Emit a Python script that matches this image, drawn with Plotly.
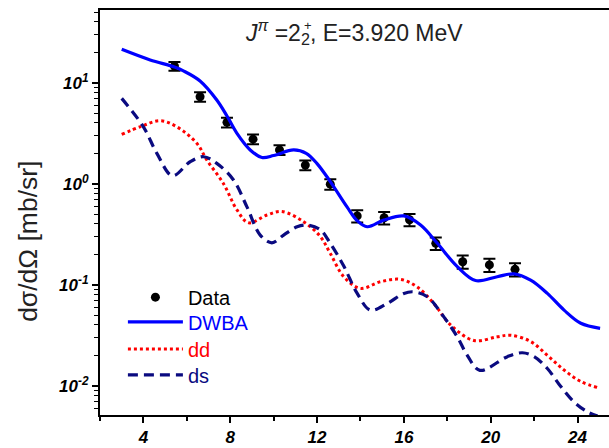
import plotly.graph_objects as go

# ---- data ----
data_x = [5.43, 6.61, 7.85, 9.05, 10.27, 11.46, 12.61, 13.85, 15.09, 16.26, 17.47, 18.71, 19.94, 21.12]
data_y = [14.6, 7.26, 4.05, 2.76, 2.16, 1.53, 0.99, 0.48, 0.46, 0.44, 0.257, 0.169, 0.157, 0.142]
data_rel_err = [0.10, 0.11, 0.11, 0.11, 0.11, 0.11, 0.12, 0.14, 0.14, 0.14, 0.14, 0.15, 0.15, 0.15]

dwba_x = [3.0, 4.31, 5.43, 5.84, 6.61, 7.38, 7.85, 8.31, 8.92, 9.46, 10.0, 10.92, 11.5, 11.99, 12.61,
          13.38, 13.85, 14.31, 15.07, 16.0, 16.77, 17.54, 18.46, 19.3, 20.3, 21.07, 21.84, 22.61,
          23.38, 24.15, 25.04]
dwba_y = [21.4, 16.8, 14.3, 13.1, 10.4, 6.74, 4.68, 3.15, 2.16, 1.82, 1.9, 2.16, 2.0, 1.59, 1.05,
          0.59, 0.43, 0.375, 0.436, 0.48, 0.39, 0.257, 0.151, 0.11, 0.12, 0.128, 0.111, 0.082,
          0.056, 0.0415, 0.037]

dd_x = [3.0, 3.9, 4.77, 5.54, 6.46, 6.92, 7.69, 8.31, 8.85, 9.69, 10.38, 11.38, 12.15, 12.61, 13.23,
        14.0, 14.92, 15.84, 16.61, 17.38, 18.15, 19.23, 20.3, 20.92, 21.84, 22.61, 23.38, 24.15, 24.92]
dd_y = [3.08, 3.7, 4.2, 3.66, 2.51, 1.72, 1.0, 0.55, 0.41, 0.49, 0.53, 0.42, 0.30, 0.204, 0.12,
        0.092, 0.107, 0.113, 0.095, 0.065, 0.040, 0.028, 0.0305, 0.0316, 0.0274, 0.020, 0.0143,
        0.011, 0.0096]

ds_x = [3.0, 4.0, 4.62, 5.34, 6.15, 6.77, 7.38, 8.15, 8.77, 9.38, 9.92, 10.46, 11.08, 11.54, 12.15,
        12.61, 13.23, 13.85, 14.46, 15.23, 16.0, 16.46, 17.08, 17.84, 18.46, 18.92, 19.5, 20.77,
        21.46, 22.0, 22.61, 23.23, 23.84, 24.46, 24.92]
ds_y = [7.0, 3.66, 2.0, 1.2, 1.65, 1.85, 1.59, 1.09, 0.59, 0.31, 0.26, 0.31, 0.375, 0.39, 0.35,
        0.257, 0.153, 0.082, 0.056, 0.065, 0.082, 0.085, 0.076, 0.048, 0.0305, 0.020, 0.0142, 0.0194,
        0.0212, 0.0194, 0.0148, 0.0098, 0.0069, 0.0055, 0.0050]

x_tickvals = [4, 8, 12, 16, 20, 24]
x_minorvals = [2, 6, 10, 14, 18, 22]
y_tickvals = [0.01, 0.1, 1, 10]
y_ticktext = ["10<sup>-2</sup>", "10<sup>-1</sup>", "10<sup>0</sup>", "10<sup>1</sup>"]
y_minorvals = [m * d for d in [0.001, 0.01, 0.1, 1, 10] for m in range(2, 10)]

title_text = "<i>J</i><sup><i>π</i></sup> =2<sub>2</sub>, E=3.920 MeV"
title_sup = "+"
y_title = "dσ/dΩ [mb/sr]"

err_plus = [v * r for v, r in zip(data_y, data_rel_err)]
err_minus = [v * r for v, r in zip(data_y, data_rel_err)]

FONT = "Arial, Liberation Sans"

fig = go.Figure()
fig.add_trace(go.Scatter(
    x=data_x, y=data_y, mode="markers", name="Data", legend="legend",
    marker=dict(color="black", size=9),
    error_y=dict(type="data", array=err_plus, arrayminus=err_minus,
                 color="black", thickness=2, width=6),
))
fig.add_trace(go.Scatter(
    x=dwba_x, y=dwba_y, mode="lines", name="<span style='color:#0000ff'>DWBA</span>", legend="legend2",
    line=dict(color="#0000ff", width=3.2, shape="spline", smoothing=1.0),
))
fig.add_trace(go.Scatter(
    x=dd_x, y=dd_y, mode="lines", name="<span style='color:#ff0000'>dd</span>", legend="legend3",
    line=dict(color="#ff0000", width=3, dash="3px,3px", shape="spline", smoothing=1.0),
))
fig.add_trace(go.Scatter(
    x=ds_x, y=ds_y, mode="lines", name="<span style='color:#0a0a80'>ds</span>", legend="legend4",
    line=dict(color="#0a0a80", width=3.2, dash="10px,6px", shape="spline", smoothing=1.0),
))

tickfont = dict(family=FONT, size=17, color="black", weight="bold", style="italic")


def leg(ypaper):
    return dict(x=0.045, y=ypaper, xanchor="left", yanchor="middle",
                bgcolor="rgba(0,0,0,0)", borderwidth=0,
                font=dict(family=FONT, size=20, color="black"),
                itemwidth=55)


fig.update_layout(
    width=609, height=448,
    margin=dict(l=100, r=0, t=10, b=33),
    paper_bgcolor="white", plot_bgcolor="white",
    showlegend=True,
    legend=leg(0.291), legend2=leg(0.230), legend3=leg(0.163), legend4=leg(0.099),
    xaxis=dict(range=[2, 25.45], showgrid=False, zeroline=False,
               showline=True, linecolor="black", linewidth=2, mirror=True,
               ticks="outside", ticklen=6, tickwidth=1.5, tickcolor="black",
               tickvals=x_tickvals, tickfont=tickfont,
               minor=dict(tickvals=x_minorvals, ticks="outside", ticklen=4, tickwidth=1.5, tickcolor="black")),
    yaxis=dict(type="log", range=[-2.29, 1.72], showgrid=False, zeroline=False,
               showline=True, linecolor="black", linewidth=2,
               ticks="outside", ticklen=6, tickwidth=1.5, tickcolor="black",
               tickvals=y_tickvals, ticktext=y_ticktext, tickfont=tickfont,
               minor=dict(tickvals=y_minorvals, ticks="outside", ticklen=4, tickwidth=1.2, tickcolor="black")),
    annotations=[
        dict(text=title_text, xref="paper", yref="paper", x=0.28, y=0.99,
             xanchor="left", yanchor="top", showarrow=False,
             font=dict(family=FONT, size=23, color="#222")),
        dict(text=title_sup, xref="paper", yref="paper", x=(308 - 100) / 509, y=(415 - 25) / 405,
             xanchor="center", yanchor="middle", showarrow=False,
             font=dict(family=FONT, size=13, color="#222")),
        dict(text=y_title, xref="paper", yref="paper", x=-0.143, y=0.428, textangle=-90,
             xanchor="center", yanchor="middle", showarrow=False,
             font=dict(family=FONT, size=26.5, color="#222")),
    ],
)

fig.write_html("out.html")
